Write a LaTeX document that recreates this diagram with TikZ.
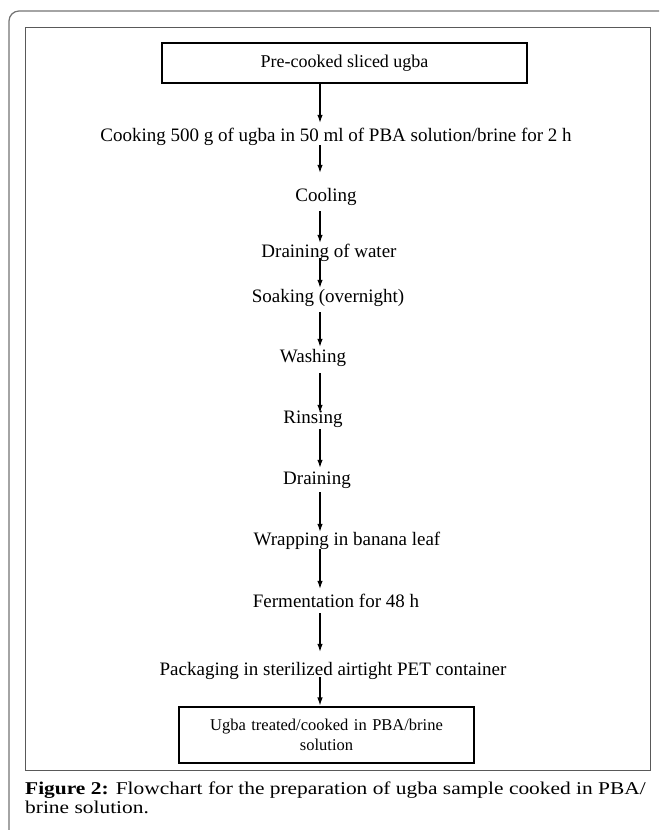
\documentclass[tikz,border=0pt]{standalone}
\usepackage{fontspec}
\setmainfont{Liberation Serif}
\newfontfamily\capfont[FakeStretch=1.19]{Liberation Serif}
\usetikzlibrary{arrows.meta}
\begin{document}
\begin{tikzpicture}[x=1pt,y=-1pt,
  steptext/.style={inner sep=0pt,text height=13pt,text depth=2pt,font=\fontsize{19}{21}\selectfont,anchor=center},
  boxnode/.style={draw=black,line width=1.1pt,inner sep=0pt,align=center},
  arr/.style={line width=1.1pt,-{Latex[length=8pt,width=5.5pt]}},
  frame/.style={draw=black!65,line width=1pt},
  captext/.style={anchor=base west,inner sep=0pt,font=\capfont\fontsize{18}{20}\selectfont}
]
\useasboundingbox (0,0) rectangle (659,830);
% outer page frame
\draw[draw=black!55,line width=1.2pt,rounded corners=10pt] (9,830) -- (9,11) -- (659,11);
% inner figure frame
\draw[frame] (25,27) rectangle (650,770);
% boxes
\node[boxnode,minimum width=365pt,minimum height=40pt,font=\fontsize{18}{20}\selectfont] (top) at (344.5,63) {Pre-cooked sliced ugba};
\node[boxnode,minimum width=295pt,minimum height=56pt,text width=290pt,font=\fontsize{16.5}{20}\selectfont] (bot) at (326.5,735) {Ugba treated/cooked in PBA/brine\\solution};
% steps
\coordinate (ax) at (320,0);
\node[steptext] (cook) at (336,136) {Cooking 500 g of ugba in 50 ml of PBA solution/brine for 2 h};
\node[steptext] (cool) at (326,196) {Cooling};
\node[steptext] (drainw) at (329,252) {Draining of water};
\node[steptext] (soak) at (328,297) {Soaking (overnight)};
\node[steptext] (wash) at (313,357) {Washing};
\node[steptext] (rinse) at (313,418) {Rinsing};
\node[steptext] (drain) at (317,479) {Draining};
\node[steptext] (wrap) at (347,540) {Wrapping in banana leaf};
\node[steptext] (ferm) at (336,602) {Fermentation for 48 h};
\node[steptext] (pack) at (333,670) {Packaging in sterilized airtight PET container};
% arrows
\draw[arr,shorten >=5.5pt] (top.south -| ax) -- (cook.north -| ax);
\draw[arr,shorten <=1.5pt,shorten >=15.5pt] (cook.south -| ax) -- (cool.north -| ax);
\draw[arr,shorten <=7.5pt,shorten >=1.5pt] (cool.south -| ax) -- (drainw.north -| ax);
\draw[arr,shorten <=-1.5pt,shorten >=1.5pt] (drainw.south -| ax) -- (soak.north -| ax);
\draw[arr,shorten <=7.5pt,shorten >=2.5pt] (soak.south -| ax) -- (wash.north -| ax);
\draw[arr,shorten <=8.5pt,shorten >=-2.5pt] (wash.south -| ax) -- (rinse.north -| ax);
\draw[arr,shorten <=3.5pt,shorten >=3.5pt] (rinse.south -| ax) -- (drain.north -| ax);
\draw[arr,shorten <=5.5pt,shorten >=0.5pt] (drain.south -| ax) -- (wrap.north -| ax);
\draw[arr,shorten <=1.5pt,shorten >=5.5pt] (wrap.south -| ax) -- (ferm.north -| ax);
\draw[arr,shorten <=3.5pt,shorten >=10.5pt] (ferm.south -| ax) -- (pack.north -| ax);
\draw[arr,shorten <=-0.5pt,shorten >=1pt] (pack.south -| ax) -- (bot.north -| ax);
% caption
\node[captext] (cap1) at (25,794) {\textbf{Figure 2:} Flowchart for the preparation of ugba sample cooked in PBA/};
\node[captext] (cap2) at (25,813) {brine solution.};
\end{tikzpicture}
\end{document}
